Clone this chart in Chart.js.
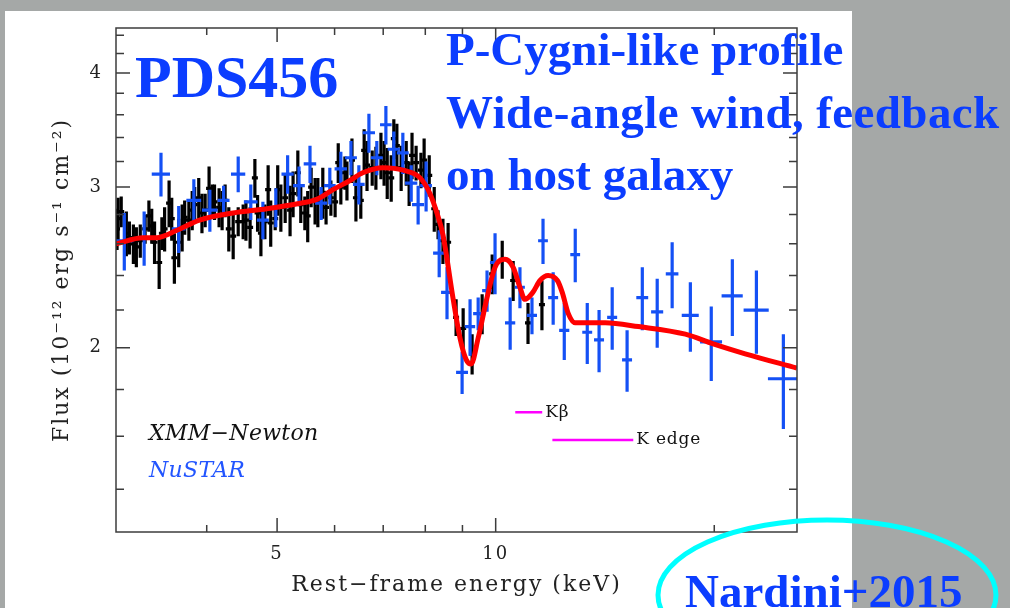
<!DOCTYPE html>
<html lang="en">
<head>
<meta charset="UTF-8" />
<title>PDS456 Fe K profile</title>
<script src="https://cdn.jsdelivr.net/npm/chart.js@4"></script>
<style>
  html, body { margin: 0; padding: 0; background: #a5a8a7; }
  #wrap { width: 1010px; height: 608px; }
</style>
</head>
<body>
<div id="wrap"><canvas id="spec" width="1010" height="608"></canvas></div>
<script>
// XMM-Newton spectrum (keV, flux 1e-12 erg/s/cm2, 1-sigma error)
const xmmEnergy = [
  3.01, 3.02, 3.05, 3.10, 3.13, 3.17, 3.20, 3.24, 3.29, 3.33, 3.36, 3.39, 3.44, 3.47, 3.50, 3.55, 3.58,
  3.61, 3.66, 3.70, 3.73, 3.78, 3.82, 3.85, 3.90, 3.94, 3.98, 4.03, 4.07, 4.10, 4.16, 4.20, 4.24, 4.29,
  4.35, 4.42, 4.49, 4.53, 4.59, 4.66, 4.70, 4.75, 4.81, 4.86, 4.90, 4.97, 5.01, 5.06, 5.13, 5.21,
  5.26, 5.34, 5.39, 5.46, 5.51, 5.57, 5.64, 5.69, 5.78, 5.84, 5.93, 6.01, 6.07, 6.12, 6.20,
  6.24, 6.34, 6.42, 6.52, 6.59, 6.65, 6.76, 6.84, 6.95, 7.02, 7.09, 7.18, 7.24, 7.31, 7.41, 7.53,
  7.60, 7.67, 7.77, 7.89, 7.97, 8.10, 8.23, 8.33,
  8.46, 8.60, 8.82, 9.02, 9.28, 9.58, 9.89, 10.21, 10.57, 11.08, 11.58
];
const xmmFlux = [
  2.70, 2.77, 2.82, 2.67, 2.64, 2.60, 2.58, 2.62, 2.70, 2.79, 2.72, 2.61, 2.48, 2.67, 2.70, 2.88, 2.77,
  2.51, 2.61, 2.71, 2.78, 2.76, 2.83, 2.87, 2.92, 2.81, 2.83, 2.99, 2.90, 2.89, 2.85, 2.83, 2.90, 2.70,
  2.65, 2.75, 2.75, 2.76, 2.71, 3.07, 2.81, 2.67, 2.75, 2.98, 2.74, 2.77, 2.98, 2.85, 2.92, 2.83,
  2.95, 3.11, 2.87, 2.81, 2.79, 3.00, 2.90, 2.89, 2.96, 2.85, 2.92, 2.89, 3.19, 3.00, 3.11,
  3.05, 3.21, 2.92, 2.90, 3.29, 3.17, 3.15, 3.15, 3.25, 3.19, 3.11, 3.07, 3.39, 3.33, 3.15, 3.19,
  3.03, 3.25, 3.19, 3.13, 3.21, 3.09, 2.84, 2.73,
  2.62, 2.61, 2.16, 2.10, 1.97, 2.18, 2.41, 2.50, 2.37, 2.13, 2.23
];
const xmmErr = [
  0.14, 0.15, 0.11, 0.15, 0.11, 0.13, 0.13, 0.11, 0.10, 0.11, 0.12, 0.14, 0.16, 0.11, 0.15, 0.17, 0.15,
  0.16, 0.16, 0.16, 0.12, 0.14, 0.14, 0.13, 0.15, 0.14, 0.12, 0.17, 0.12, 0.13, 0.14, 0.14, 0.12, 0.15,
  0.15, 0.10, 0.12, 0.14, 0.14, 0.15, 0.13, 0.15, 0.12, 0.19, 0.16, 0.08, 0.19, 0.17, 0.18, 0.18,
  0.17, 0.18, 0.13, 0.12, 0.18, 0.15, 0.17, 0.18, 0.19, 0.12, 0.13, 0.11, 0.16, 0.13, 0.13,
  0.15, 0.18, 0.17, 0.13, 0.18, 0.20, 0.14, 0.17, 0.19, 0.18, 0.20, 0.18, 0.17, 0.19, 0.18, 0.18,
  0.17, 0.19, 0.14, 0.14, 0.18, 0.16, 0.16, 0.10,
  0.15, 0.13, 0.10, 0.11, 0.10, 0.11, 0.12, 0.12, 0.12, 0.11, 0.14
];

// NuSTAR spectrum (bin half-width in keV)
const nuEnergy = [
  3.08, 3.28, 3.46, 3.66, 3.84, 4.04, 4.22, 4.42, 4.60, 4.78, 4.98, 5.17, 5.36, 5.55, 5.75, 5.91, 6.12, 6.32,
  6.48, 6.69, 6.86, 7.06, 7.24, 7.45, 7.65, 7.82, 8.02, 8.36, 8.57, 8.99, 9.22, 9.46, 9.73, 9.98, 10.47,
  10.80, 11.22, 11.62, 12.00, 12.43, 12.87, 13.37, 13.88, 14.47, 15.17, 15.92, 16.69, 17.50, 18.54, 19.81,
  21.18, 22.86, 24.90
];
const nuFlux = [
  2.62, 2.64, 3.10, 2.70, 2.90, 2.83, 2.90, 3.10, 2.89, 2.76, 2.85, 3.10, 3.01, 3.18, 2.88, 3.01, 3.14, 3.23,
  3.02, 3.44, 3.23, 3.51, 3.30, 3.27, 3.03, 2.87, 3.01, 2.54, 2.30, 1.88, 2.11, 2.18, 2.31, 2.48, 2.13,
  2.33, 2.17, 2.62, 2.27, 2.09, 2.53, 2.08, 2.04, 2.16, 1.94, 2.27, 2.19, 2.41, 2.17, 2.03,
  2.28, 2.20, 1.85
];
const nuErr = [
  0.19, 0.18, 0.17, 0.16, 0.16, 0.15, 0.11, 0.14, 0.13, 0.13, 0.14, 0.15, 0.15, 0.15, 0.12, 0.14, 0.14, 0.14,
  0.15, 0.17, 0.14, 0.17, 0.15, 0.17, 0.14, 0.14, 0.19, 0.15, 0.15, 0.10, 0.15, 0.09, 0.12, 0.19, 0.14,
  0.12, 0.10, 0.15, 0.15, 0.15, 0.17, 0.16, 0.16, 0.17, 0.15, 0.18, 0.19, 0.20, 0.19, 0.19,
  0.22, 0.23, 0.22
];
const nuBin = [
  0.09, 0.08, 0.10, 0.08, 0.09, 0.10, 0.08, 0.10, 0.10, 0.09, 0.09, 0.10, 0.10, 0.11, 0.11, 0.11, 0.12, 0.12,
  0.12, 0.13, 0.13, 0.13, 0.14, 0.14, 0.15, 0.15, 0.15, 0.16, 0.16, 0.17, 0.15, 0.15, 0.15, 0.16, 0.17,
  0.17, 0.18, 0.18, 0.19, 0.20, 0.20, 0.21, 0.22, 0.23, 0.24, 0.30, 0.32, 0.35, 0.50, 0.69,
  0.71, 0.91, 1.19
];

// best-fit model
const modelEnergy = [
  3.00, 3.27, 3.41, 3.64, 3.91, 4.35, 4.84, 5.38, 5.68, 5.97, 6.30, 6.56, 7.00, 7.46, 7.87, 8.12, 8.30,
  8.46, 8.74, 8.93, 9.11, 9.25, 9.46, 9.73, 9.98, 10.30, 10.57, 10.80, 10.97, 11.25, 11.51, 11.81,
  12.16, 12.35, 12.59, 12.87, 14.15, 15.72, 18.25, 19.93, 22.06, 26.00
];
const modelFlux = [
  2.60, 2.64, 2.64, 2.69, 2.76, 2.81, 2.84, 2.88, 2.91, 2.98, 3.05, 3.11, 3.15, 3.13, 3.07, 2.95, 2.81,
  2.66, 2.26, 2.05, 1.94, 1.92, 2.05, 2.27, 2.45, 2.50, 2.45, 2.33, 2.26, 2.30, 2.37, 2.40,
  2.37, 2.30, 2.18, 2.13, 2.13, 2.11, 2.07, 2.02, 1.97, 1.90
];

// Fe K-beta and K-edge markers
const kBetaRange = [10.64, 11.59];
const kBetaFlux = 1.70;
const kEdgeRange = [11.97, 15.47];
const kEdgeFlux = 1.585;

const xMajorTicks = [5, 10];
const xMinorTicks = [4, 6, 7, 8, 9, 20];
const yMajorTicks = [2, 3, 4];
const yMinorTicks = [1.4, 1.6, 1.8, 2.2, 2.4, 2.6, 2.8, 3.2, 3.4, 3.6, 3.8, 4.2, 4.4];

const BLUE_TXT = '#0b3dff';
const BLUE_BAR = '#1450f5';
const AXIS_FONT = 'DejaVu Serif';

const xmmPoints = xmmEnergy.map((e, i) => ({ x: e, y: xmmFlux[i], yErr: xmmErr[i] }));
const nuPoints = nuEnergy.map((e, i) => ({ x: e, y: nuFlux[i], yErr: nuErr[i], xErr: nuBin[i] }));
const modelPoints = modelEnergy.map((e, i) => ({ x: e, y: modelFlux[i] }));

// grey slide + white panel behind the plot
const background = {
  id: 'background',
  beforeDraw(chart) {
    const ctx = chart.ctx;
    ctx.save();
    ctx.fillStyle = '#a5a8a7';
    ctx.fillRect(0, 0, chart.width, chart.height);
    ctx.fillStyle = '#ffffff';
    ctx.fillRect(5, 11, 847, 597);
    ctx.restore();
    ctx.letterSpacing = '2px';
  }
};

// crosses: vertical flux error + horizontal bin width
const errorBars = {
  id: 'errorBars',
  afterDatasetDraw(chart, args) {
    const ds = chart.data.datasets[args.index];
    if (!ds.errorBars) return;
    const { ctx, chartArea: a, scales: { x, y } } = chart;
    ctx.save();
    ctx.beginPath();
    ctx.rect(a.left, a.top, a.right - a.left, a.bottom - a.top);
    ctx.clip();
    ctx.strokeStyle = ds.barColor;
    ctx.lineWidth = ds.barWidth;
    ds.data.forEach(p => {
      const px = x.getPixelForValue(p.x);
      const py = y.getPixelForValue(p.y);
      ctx.beginPath();
      ctx.moveTo(px, y.getPixelForValue(p.y - p.yErr));
      ctx.lineTo(px, y.getPixelForValue(p.y + p.yErr));
      if (p.xErr) {
        ctx.moveTo(x.getPixelForValue(p.x - p.xErr), py);
        ctx.lineTo(x.getPixelForValue(p.x + p.xErr), py);
      } else {
        ctx.moveTo(px - ds.capHalf, py);
        ctx.lineTo(px + ds.capHalf, py);
      }
      ctx.stroke();
    });
    ctx.restore();
  }
};

// box with inward ticks on all four sides, then the labels on top
const frameAndText = {
  id: 'frameAndText',
  afterDraw(chart) {
    const { ctx, chartArea: a, scales: { x, y } } = chart;
    ctx.save();
    ctx.letterSpacing = '0px';
    ctx.strokeStyle = '#3c3c3c';
    ctx.lineWidth = 1.5;
    ctx.strokeRect(a.left, a.top, a.right - a.left, a.bottom - a.top);
    ctx.beginPath();
    const xt = (v, len) => {
      const px = x.getPixelForValue(v);
      ctx.moveTo(px, a.bottom); ctx.lineTo(px, a.bottom - len);
      ctx.moveTo(px, a.top); ctx.lineTo(px, a.top + len);
    };
    const yt = (v, len) => {
      const py = y.getPixelForValue(v);
      ctx.moveTo(a.left, py); ctx.lineTo(a.left + len, py);
      ctx.moveTo(a.right, py); ctx.lineTo(a.right - len, py);
    };
    xMajorTicks.forEach(v => xt(v, 14));
    xMinorTicks.forEach(v => xt(v, 7));
    yMajorTicks.forEach(v => yt(v, 14));
    yMinorTicks.forEach(v => yt(v, 8));
    ctx.stroke();

    // line markers labels
    ctx.textBaseline = 'middle';
    ctx.fillStyle = '#111';
    ctx.font = '17px "DejaVu Serif"';
    ctx.letterSpacing = '0.8px';
    ctx.fillText('Kβ', x.getPixelForValue(kBetaRange[1]) + 3, y.getPixelForValue(kBetaFlux));
    ctx.fillText('K edge', x.getPixelForValue(kEdgeRange[1]) + 3, y.getPixelForValue(kEdgeFlux));

    // instrument legend
    ctx.textBaseline = 'alphabetic';
    ctx.letterSpacing = '0.3px';
    ctx.font = 'italic 22px "DejaVu Serif"';
    ctx.fillStyle = '#111';
    ctx.fillText('XMM−Newton', 149, 440);
    ctx.fillStyle = '#2255ff';
    ctx.fillText('NuSTAR', 149, 477);

    // slide annotations
    ctx.letterSpacing = '0px';
    ctx.fillStyle = BLUE_TXT;
    ctx.font = 'bold 60px "Liberation Serif"';
    ctx.fillText('PDS456', 135, 97);
    ctx.font = 'bold 47px "Liberation Serif"';
    ctx.fillText('P-Cygni-like profile', 446, 65);
    ctx.letterSpacing = '0.4px';
    ctx.fillText('Wide-angle wind, feedback', 446, 128);
    ctx.letterSpacing = '0px';
    ctx.fillText('on host galaxy', 446, 190);

    ctx.strokeStyle = '#00ffff';
    ctx.lineWidth = 5;
    ctx.beginPath();
    ctx.ellipse(827, 595, 169, 75, 0, 0, Math.PI * 2);
    ctx.stroke();
    ctx.fillText('Nardini+2015', 685, 607);
    ctx.restore();
  }
};

new Chart(document.getElementById('spec'), {
  type: 'scatter',
  data: {
    datasets: [
      {
        label: 'XMM-Newton', data: xmmPoints, order: 4, pointRadius: 0,
        errorBars: true, barColor: '#000000', barWidth: 3.2, capHalf: 3
      },
      {
        label: 'NuSTAR', data: nuPoints, order: 3, pointRadius: 0,
        errorBars: true, barColor: BLUE_BAR, barWidth: 3.2
      },
      {
        label: 'K beta', data: kBetaRange.map(e => ({ x: e, y: kBetaFlux })), order: 2,
        showLine: true, borderColor: '#ff00ff', borderWidth: 2.5, pointRadius: 0
      },
      {
        label: 'K edge', data: kEdgeRange.map(e => ({ x: e, y: kEdgeFlux })), order: 2,
        showLine: true, borderColor: '#ff00ff', borderWidth: 2.5, pointRadius: 0
      },
      {
        label: 'model', data: modelPoints, order: 1, showLine: true,
        borderColor: '#ff0000', borderWidth: 5, pointRadius: 0, cubicInterpolationMode: 'monotone'
      }
    ]
  },
  options: {
    responsive: false,
    animation: false,
    devicePixelRatio: 1,
    layout: { padding: { left: 0, top: 28, right: 213, bottom: 0 } },
    plugins: { legend: { display: false }, tooltip: { enabled: false } },
    scales: {
      x: {
        type: 'logarithmic', min: 3, max: 26,
        grid: { display: false, drawTicks: false },
        border: { display: false },
        afterBuildTicks: s => { s.ticks = xMajorTicks.map(v => ({ value: v })); },
        afterFit: s => { s.height = 76; },
        ticks: {
          callback: v => String(v), color: '#222', padding: 12,
          maxRotation: 0, autoSkip: false, font: { family: AXIS_FONT, size: 18 }
        },
        title: {
          display: true, text: 'Rest−frame energy (keV)', color: '#222',
          font: { family: AXIS_FONT, size: 22 }, padding: { top: 0, bottom: 10 }
        }
      },
      y: {
        type: 'logarithmic', min: 1.257, max: 4.48,
        grid: { display: false, drawTicks: false },
        border: { display: false },
        afterBuildTicks: s => { s.ticks = yMajorTicks.map(v => ({ value: v })); },
        afterFit: s => { s.width = 116; },
        ticks: {
          callback: v => String(v), color: '#222', padding: 13,
          autoSkip: false, font: { family: AXIS_FONT, size: 18 }
        },
        title: {
          display: true, text: 'Flux (10⁻¹² erg s⁻¹ cm⁻²)', color: '#222',
          font: { family: AXIS_FONT, size: 22 }, padding: { top: 49, bottom: 0 }
        }
      }
    }
  },
  plugins: [background, errorBars, frameAndText]
});
</script>
</body>
</html>
